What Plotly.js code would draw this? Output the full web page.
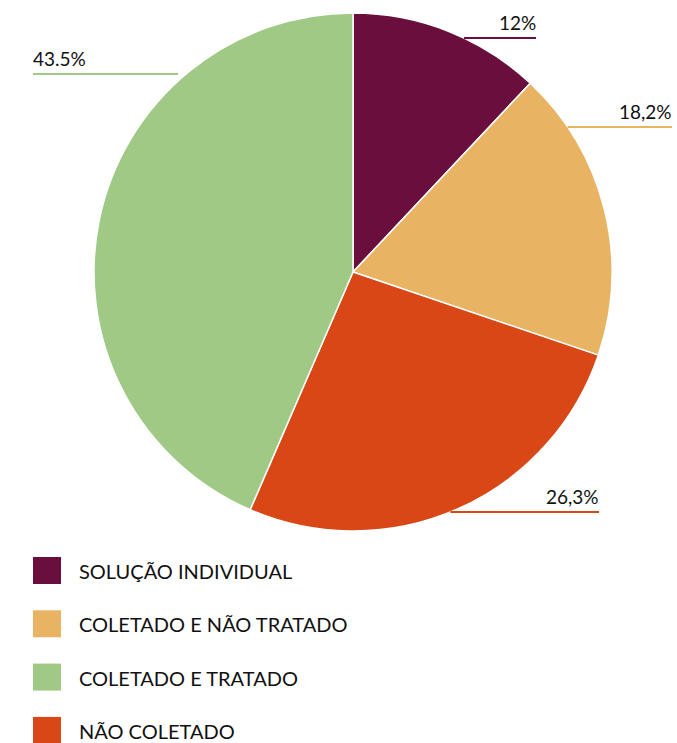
<!DOCTYPE html>
<html><head><meta charset="utf-8">
<script src="https://cdn.plot.ly/plotly-3.0.1.min.js"></script>
<style>html,body{margin:0;padding:0;background:#fff}</style></head><body>
<div id="chart" style="width:677px;height:743px"></div>
<script>
// ---- data ----
const categories = ["SOLUÇÃO INDIVIDUAL", "COLETADO E NÃO TRATADO", "NÃO COLETADO", "COLETADO E TRATADO"];
const values = [12, 18.2, 26.3, 43.5];
const valueLabels = ["12%", "18,2%", "26,3%", "43.5%"];
const sliceColors = ["#6A0F3D", "#E8B463", "#D94716", "#A0C986"];
const legendOrder = ["SOLUÇÃO INDIVIDUAL", "COLETADO E NÃO TRATADO", "COLETADO E TRATADO", "NÃO COLETADO"];

// ---- layout settings (pixels) ----
const W = 677, H = 743;
const cx = 353, cy = 272, R = 259;
const labelLineY = [38, 127, 512, 74];
const labelEndX = [536, 672, 599, 33];
const labelSide = ["right", "right", "right", "left"];
const labelGap = [0, 0, 0, 8];
const FONT = "Lato, 'Open Sans', sans-serif";

const px = x => x / W;
const py = y => 1 - y / H;

const shapes = [], annotations = [];
values.forEach((v, i) => {
  const y = labelLineY[i];
  const dx = Math.sqrt(Math.max(0, R * R - (cy - y) * (cy - y)));
  const right = labelSide[i] === "right";
  const xs = right ? cx + dx + labelGap[i] : cx - dx - labelGap[i];
  shapes.push({type: "line", xref: "paper", yref: "paper",
    x0: px(xs), x1: px(labelEndX[i]), y0: py(y), y1: py(y),
    line: {color: sliceColors[i], width: 2}});
  annotations.push({xref: "paper", yref: "paper",
    x: px(labelEndX[i] + (right ? 2 : -2)), y: py(y - 2),
    xanchor: right ? "right" : "left", yanchor: "bottom",
    text: valueLabels[i], showarrow: false,
    font: {family: FONT, size: 19, color: "#111111"}});
});

legendOrder.forEach((name, k) => {
  const i = categories.indexOf(name);
  const top = 557 + k * 53.3;
  shapes.push({type: "rect", xref: "paper", yref: "paper",
    x0: px(33), x1: px(61), y0: py(top), y1: py(top + 27),
    fillcolor: sliceColors[i], line: {width: 0}});
  annotations.push({xref: "paper", yref: "paper", x: px(77), y: py(top + 14),
    xanchor: "left", yanchor: "middle", text: name, showarrow: false,
    font: {family: FONT, size: 20, color: "#111111"}});
});

const trace = {
  type: "pie", labels: categories, values: values, sort: false,
  direction: "clockwise", rotation: 0, textinfo: "none", hoverinfo: "label+percent",
  marker: {colors: sliceColors, line: {color: "#ffffff", width: 1.5}},
  domain: {x: [px(cx - R), px(cx + R)], y: [py(cy + R), py(cy - R)]},
  showlegend: false
};

Plotly.newPlot("chart", [trace], {
  width: W, height: H, margin: {l: 0, r: 0, t: 0, b: 0},
  paper_bgcolor: "#ffffff", showlegend: false,
  shapes: shapes, annotations: annotations
}, {displayModeBar: false, staticPlot: true});
</script></body></html>
